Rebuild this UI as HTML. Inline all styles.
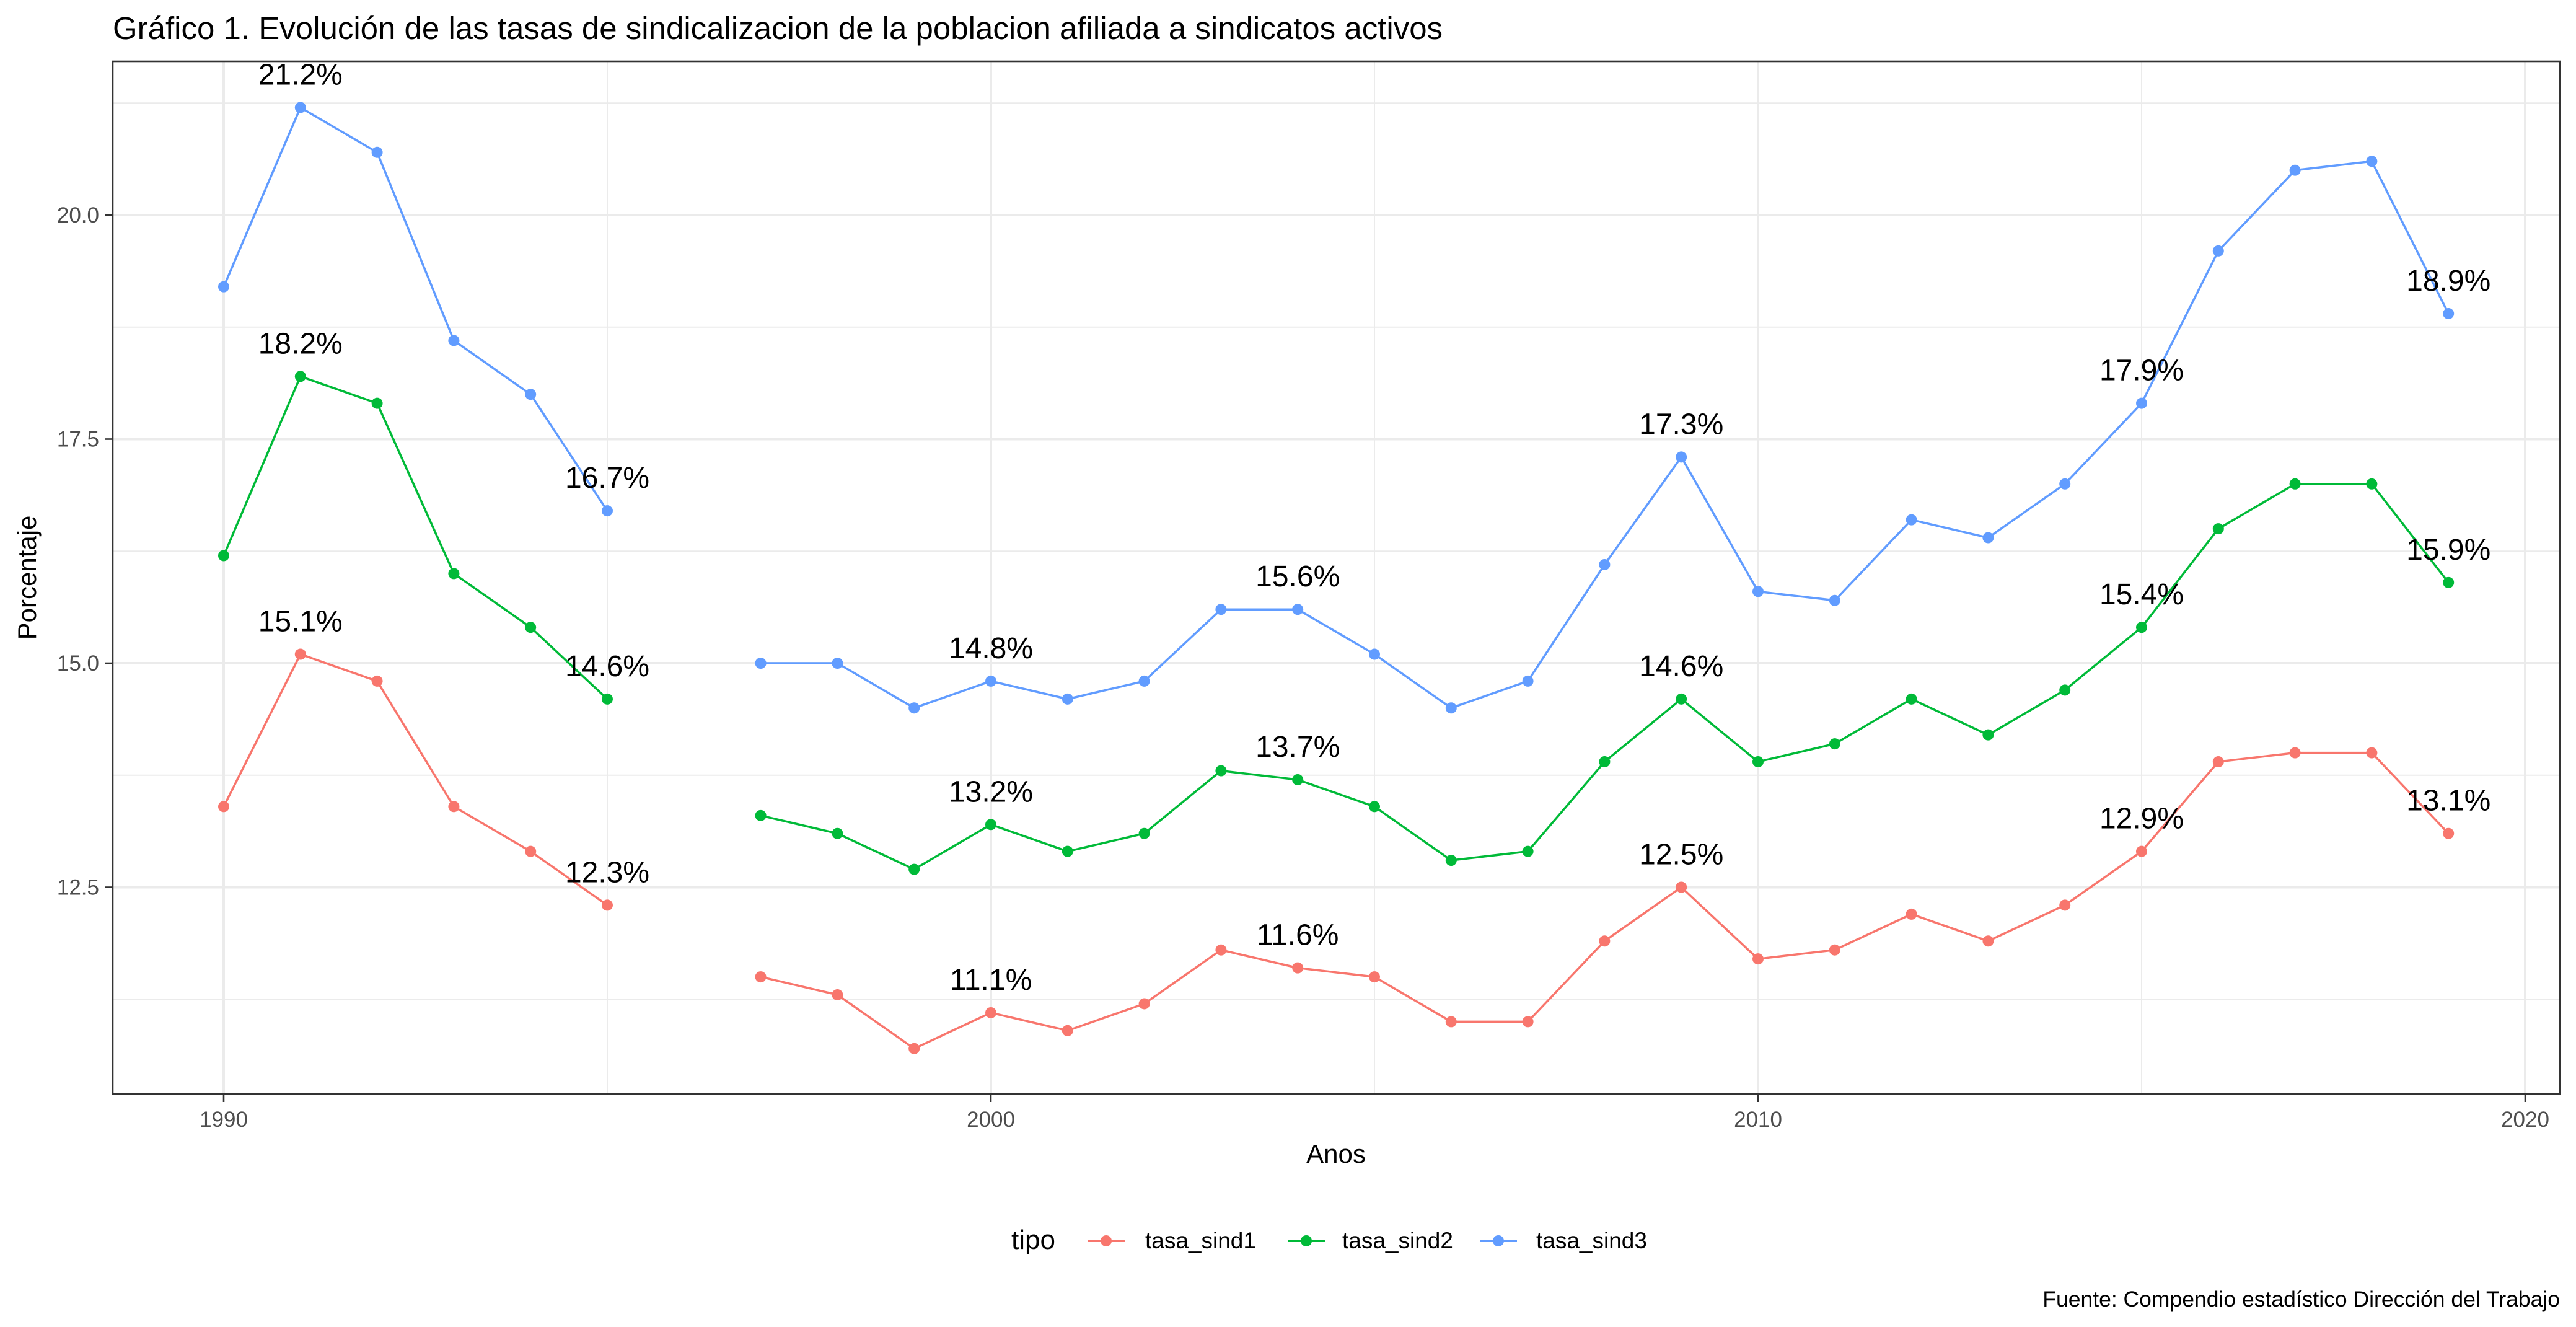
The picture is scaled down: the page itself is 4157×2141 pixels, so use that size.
<!DOCTYPE html>
<html><head><meta charset="utf-8"><style>
html,body{margin:0;padding:0;background:#fff;}
svg{display:block;font-family:"Liberation Sans",sans-serif;}
</style></head><body>
<svg id="chart" width="4157" height="2141" viewBox="0 0 4157 2141" xmlns="http://www.w3.org/2000/svg">
<rect width="4157" height="2141" fill="#fff"/>
<text x="182" y="63" font-size="51" fill="#000">Gráfico 1. Evolución de las tasas de sindicalizacion de la poblacion afiliada a sindicatos activos</text>
<g id="grid"></g>
<g id="series"></g>
<g id="labels"></g>
<rect x="182" y="99" width="3949" height="1666" fill="none" stroke="#333" stroke-width="2.6"/>
<g id="axes"></g>
<text x="2156" y="1876" font-size="42" text-anchor="middle" fill="#000">Anos</text>
<text transform="translate(58,932) rotate(-90)" font-size="42" text-anchor="middle" fill="#000">Porcentaje</text>
<g>
<text x="1632" y="2015" font-size="44" fill="#000">tipo</text>
<g>
<line x1="1755" y1="2002" x2="1815" y2="2002" stroke="#F8766D" stroke-width="4"/><circle cx="1785" cy="2002" r="9" fill="#F8766D"/>
<text x="1848" y="2014" font-size="37" fill="#000">tasa_sind1</text></g>
<g>
<line x1="2078" y1="2002" x2="2138" y2="2002" stroke="#00BA38" stroke-width="4"/><circle cx="2108" cy="2002" r="9" fill="#00BA38"/>
<text x="2166" y="2014" font-size="37" fill="#000">tasa_sind2</text></g>
<g>
<line x1="2388" y1="2002" x2="2448" y2="2002" stroke="#619CFF" stroke-width="4"/><circle cx="2418" cy="2002" r="9" fill="#619CFF"/>
<text x="2479" y="2014" font-size="37" fill="#000">tasa_sind3</text></g>
</g>
<text x="4131" y="2108" font-size="35.5" text-anchor="end" fill="#000">Fuente: Compendio estadístico Dirección del Trabajo</text>
</svg>
<script>
const years = [1990,1991,1992,1993,1994,1995,1996,1997,1998,1999,2000,2001,2002,2003,2004,2005,2006,2007,2008,2009,2010,2011,2012,2013,2014,2015,2016,2017,2018,2019];
const sind1 = [13.4,15.1,14.8,13.4,12.9,12.3,null,11.5,11.3,10.7,11.1,10.9,11.2,11.8,11.6,11.5,11.0,11.0,11.9,12.5,11.7,11.8,12.2,11.9,12.3,12.9,13.9,14.0,14.0,13.1];
const sind2 = [16.2,18.2,17.9,16.0,15.4,14.6,null,13.3,13.1,12.7,13.2,12.9,13.1,13.8,13.7,13.4,12.8,12.9,13.9,14.6,13.9,14.1,14.6,14.2,14.7,15.4,16.5,17.0,17.0,15.9];
const sind3 = [19.2,21.2,20.7,18.6,18.0,16.7,null,15.0,15.0,14.5,14.8,14.6,14.8,15.6,15.6,15.1,14.5,14.8,16.1,17.3,15.8,15.7,16.6,16.4,17.0,17.9,19.6,20.5,20.6,18.9];
const labelYears = [1991,1995,2000,2004,2009,2015,2019];
const xTicks = [1990,2000,2010,2020];
const xMinor = [1995,2005,2015];
const yTicks = [12.5,15.0,17.5,20.0];
const yMinor = [11.25,13.75,16.25,18.75,21.25];
const seriesNames = ['tasa_sind1','tasa_sind2','tasa_sind3'];
const seriesColors = ['#F8766D','#00BA38','#619CFF'];

const X = y => 361 + (y-1990)*123.8;
const Y = v => 347 - (v-20)*144.6;
const NS = 'http://www.w3.org/2000/svg';
function mk(tag, attrs, parent){const e=document.createElementNS(NS,tag);for(const k in attrs)e.setAttribute(k,attrs[k]);parent.appendChild(e);return e;}
const grid=document.getElementById('grid'), axes=document.getElementById('axes'), ser=document.getElementById('series'), lab=document.getElementById('labels');
yMinor.forEach(v=>{const l=mk('line',{x1:182,x2:4131,y1:Y(v),y2:Y(v),stroke:'#ebebeb','stroke-width':2},grid);

});
xMinor.forEach(v=>{const l=mk('line',{x1:X(v),x2:X(v),y1:99,y2:1765,stroke:'#ebebeb','stroke-width':2},grid);

});
yTicks.forEach(v=>{const l=mk('line',{x1:182,x2:4131,y1:Y(v),y2:Y(v),stroke:'#ebebeb','stroke-width':4},grid);


const t=mk('line',{x1:170,x2:182,y1:Y(v),y2:Y(v),stroke:'#333','stroke-width':2.6},axes);


const tx=mk('text',{x:160,y:Y(v)+12,'font-size':35,'text-anchor':'end',fill:'#4d4d4d'},axes);tx.textContent=v.toFixed(1);

});
xTicks.forEach(v=>{const l=mk('line',{x1:X(v),x2:X(v),y1:99,y2:1765,stroke:'#ebebeb','stroke-width':4},grid);


const t=mk('line',{x1:X(v),x2:X(v),y1:1765,y2:1778,stroke:'#333','stroke-width':2.6},axes);


const tx=mk('text',{x:X(v),y:1818,'font-size':35,'text-anchor':'middle',fill:'#4d4d4d'},axes);tx.textContent=v;

});
[sind1,sind2,sind3].forEach((vals,si)=>{
  const c=seriesColors[si];
  let segs=[],cur=[];
  vals.forEach((v,i)=>{if(v===null){if(cur.length)segs.push(cur);cur=[];}else cur.push(X(years[i])+','+Y(v));});
  if(cur.length)segs.push(cur);
  segs.forEach(s=>{const p=mk('polyline',{points:s.join(' '),fill:'none',stroke:c,'stroke-width':3.5},ser);
  
  });
  vals.forEach((v,i)=>{if(v===null)return;const pt=mk('circle',{cx:X(years[i]),cy:Y(v),r:9,fill:c},ser);
  
  });
  labelYears.forEach(yr=>{const v=vals[years.indexOf(yr)];const t=mk('text',{x:X(yr),y:Y(v)-37,'font-size':48,'text-anchor':'middle',fill:'#000'},lab);t.textContent=v.toFixed(1)+'%';
  
  });
});
</script>
</body></html>
